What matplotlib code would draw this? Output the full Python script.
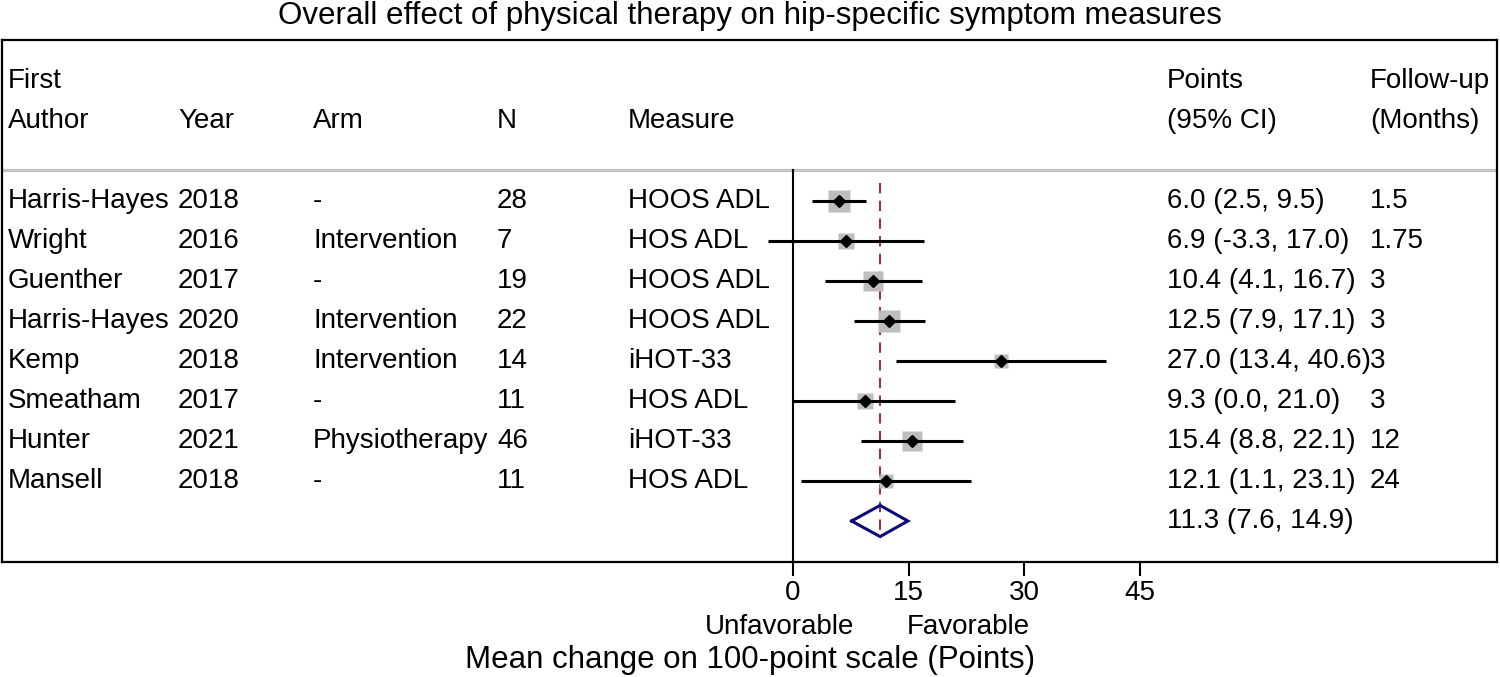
import matplotlib
matplotlib.use("Agg")
import matplotlib.pyplot as plt
from matplotlib.transforms import blended_transform_factory
import numpy as np

plt.rcParams['font.family'] = ['Liberation Sans', 'DejaVu Sans']

# ---------------- data ----------------
authors = ["Harris-Hayes", "Wright", "Guenther", "Harris-Hayes", "Kemp", "Smeatham", "Hunter", "Mansell"]
years = ["2018", "2016", "2017", "2020", "2018", "2017", "2021", "2018"]
arms = ["-", "Intervention", "-", "Intervention", "Intervention", "-", "Physiotherapy", "-"]
ns = ["28", "7", "19", "22", "14", "11", "46", "11"]
measures = ["HOOS ADL", "HOS ADL", "HOOS ADL", "HOOS ADL", "iHOT-33", "HOS ADL", "iHOT-33", "HOS ADL"]
estimates = [6.0, 6.9, 10.4, 12.5, 27.0, 9.3, 15.4, 12.1]
lower = [2.5, -3.3, 4.1, 7.9, 13.4, 0.0, 8.8, 1.1]
upper = [9.5, 17.0, 16.7, 17.1, 40.6, 21.0, 22.1, 23.1]
followup = ["1.5", "1.75", "3", "3", "3", "3", "12", "24"]
weights = [20.0, 9.7, 15.1, 18.3, 7.4, 9.7, 15.1, 8.5]   # relative study weights (box area)
pooled_est, pooled_lo, pooled_hi = 11.3, 7.6, 14.9
xticks = [0, 15, 30, 45]

title = "Overall effect of physical therapy on hip-specific symptom measures"
xlabel = "Mean change on 100-point scale (Points)"

# ---------------- figure ----------------
W, H = 1500, 677
fig = plt.figure(figsize=(W / 100, H / 100), dpi=100)

box_l, box_r, box_t, box_b = 2, 1497, 40, 562
ax = fig.add_axes([box_l / W, 1 - box_b / H, (box_r - box_l) / W, (box_b - box_t) / H])

px_per_unit = 7.71
zero_px = 793
ax.set_xlim((box_l - zero_px) / px_per_unit, (box_r - zero_px) / px_per_unit)
row0_px, row_step = 201, 40
ax.set_ylim((box_b - row0_px) / row_step, (box_t - row0_px) / row_step)

for s in ax.spines.values():
    s.set_linewidth(1.6)
    s.set_color('black')
ax.set_yticks([])
ax.set_xticks(xticks)
fs = 20
ax.set_xticklabels([str(t) for t in xticks], fontsize=fs)
ax.tick_params(axis='x', direction='out', length=10, width=1.5, pad=3)

trans = blended_transform_factory(ax.transAxes, ax.transData)
col_x = {k: (v - box_l) / (box_r - box_l) for k, v in
         dict(author=8, year=178, arm=313, n=497, measure=628, points=1167, fu=1370).items()}

# header
hy1, hy2 = -3.0, -2.0
ax.text(col_x['author'], hy1, "First", transform=trans, fontsize=fs, va='center')
ax.text(col_x['author'], hy2, "Author", transform=trans, fontsize=fs, va='center')
ax.text(col_x['year'], hy2, "Year", transform=trans, fontsize=fs, va='center')
ax.text(col_x['arm'], hy2, "Arm", transform=trans, fontsize=fs, va='center')
ax.text(col_x['n'], hy2, "N", transform=trans, fontsize=fs, va='center')
ax.text(col_x['measure'], hy2, "Measure", transform=trans, fontsize=fs, va='center')
ax.text(col_x['points'], hy1, "Points", transform=trans, fontsize=fs, va='center')
ax.text(col_x['points'], hy2, "(95% CI)", transform=trans, fontsize=fs, va='center')
ax.text(col_x['fu'], hy1, "Follow-up", transform=trans, fontsize=fs, va='center')
ax.text(col_x['fu'], hy2, "(Months)", transform=trans, fontsize=fs, va='center')

sep_y = (170 - row0_px) / row_step
ax.axhline(sep_y, color='#c4c4c4', lw=2.4, zorder=1)

# zero line (extends from separator to bottom)
ax.plot([0, 0], [sep_y, (box_b - row0_px) / row_step], color='black', lw=1.5, zorder=2)

# pooled dashed line
ax.plot([pooled_est, pooled_est], [-0.45, len(estimates) + 0.4], color='#a8323c',
        lw=1.5, ls=(0, (5, 3.5)), zorder=3)

# studies
side_k = 23 / np.sqrt(20.0)
for i in range(len(estimates)):
    ax.plot([lower[i], upper[i]], [i, i], color='black', lw=2.2, zorder=4, solid_capstyle='butt')
    side_px = side_k * np.sqrt(weights[i])
    ax.plot(estimates[i], i, marker='s', ms=side_px * 0.72, color='#bdbdbd', mec='none', zorder=3.5)
    ax.plot(estimates[i], i, marker='D', ms=6.5, color='black', mec='black', zorder=5)
    ax.text(col_x['author'], i, authors[i], transform=trans, fontsize=fs, va='center')
    ax.text(col_x['year'], i, years[i], transform=trans, fontsize=fs, va='center')
    ax.text(col_x['arm'], i, arms[i], transform=trans, fontsize=fs, va='center')
    ax.text(col_x['n'], i, ns[i], transform=trans, fontsize=fs, va='center')
    ax.text(col_x['measure'], i, measures[i], transform=trans, fontsize=fs, va='center')
    ax.text(col_x['points'], i, f"{estimates[i]:.1f} ({lower[i]:.1f}, {upper[i]:.1f})",
            transform=trans, fontsize=fs, va='center')
    ax.text(col_x['fu'], i, followup[i], transform=trans, fontsize=fs, va='center')

# pooled diamond
py = len(estimates)
dh = 0.39
ax.plot([pooled_lo, pooled_est, pooled_hi, pooled_est, pooled_lo],
        [py, py - dh, py, py + dh, py], color='#0a0a78', lw=2.2, zorder=4, solid_joinstyle='miter')
ax.text(col_x['points'], py, f"{pooled_est:.1f} ({pooled_lo:.1f}, {pooled_hi:.1f})",
        transform=trans, fontsize=fs, va='center')

# labels below
fig.text(854 / W, 1 - 627 / H, "Unfavorable", ha='right', va='center', fontsize=fs)
fig.text(907 / W, 1 - 627 / H, "Favorable", ha='left', va='center', fontsize=fs)
fig.text(750 / W, 1 - 660 / H, xlabel, ha='center', va='center', fontsize=22.5)
fig.text(750 / W, 1 - 16 / H, title, ha='center', va='center', fontsize=22.5)

fig.savefig("out.png", dpi=100)
